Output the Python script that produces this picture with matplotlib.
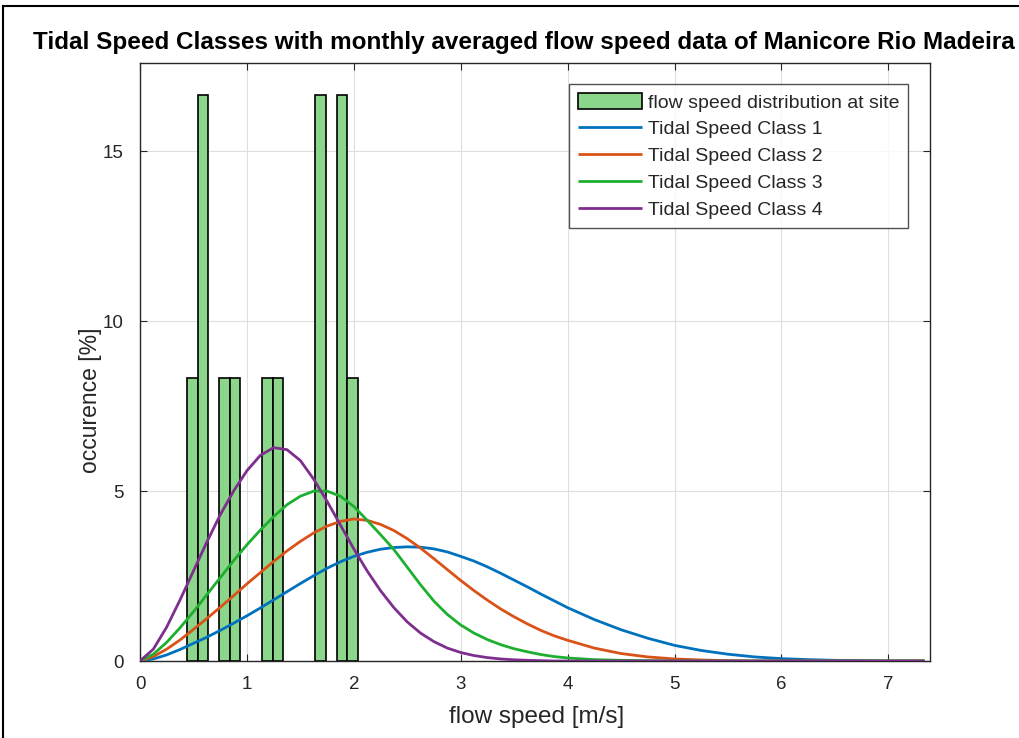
import matplotlib
matplotlib.use("Agg")
import matplotlib.pyplot as plt
from matplotlib.lines import Line2D

plt.rcParams['font.family'] = ['Liberation Sans', 'DejaVu Sans']

# ---- data ----
bin_centers = [0.49, 0.59, 0.79, 0.89, 1.19, 1.29, 1.69, 1.89, 1.99]
bin_heights = [8.333, 16.667, 8.333, 8.333, 8.333, 8.333, 16.667, 16.667, 8.333]
bin_width = 0.1

speed = [0, 0.125, 0.25, 0.375, 0.5, 0.625, 0.75, 0.875, 1.0, 1.125, 1.25, 1.375,
         1.5, 1.625, 1.75, 1.875, 2.0, 2.125, 2.25, 2.375, 2.5, 2.625, 2.75, 2.875,
         3.0, 3.125, 3.25, 3.375, 3.5, 3.625, 3.75, 3.875, 4.0, 4.25, 4.5, 4.75,
         5.0, 5.25, 5.5, 5.75, 6.0, 6.25, 6.5, 6.75, 7.0, 7.34]
class1 = [0, 0.06, 0.18, 0.34, 0.52, 0.70, 0.90, 1.11, 1.33, 1.56, 1.80, 2.04,
          2.28, 2.51, 2.73, 2.92, 3.08, 3.20, 3.29, 3.34, 3.36, 3.35, 3.30, 3.21,
          3.08, 2.94, 2.77, 2.58, 2.38, 2.18, 1.97, 1.77, 1.57, 1.22, 0.92, 0.67,
          0.46, 0.31, 0.20, 0.12, 0.07, 0.04, 0.02, 0.01, 0.0, 0.0]
class2 = [0, 0.13, 0.35, 0.62, 0.93, 1.25, 1.58, 1.92, 2.27, 2.60, 2.93, 3.24,
          3.52, 3.77, 3.97, 4.11, 4.18, 4.14, 4.02, 3.84, 3.60, 3.32, 3.01, 2.69,
          2.37, 2.07, 1.79, 1.53, 1.30, 1.09, 0.90, 0.74, 0.61, 0.38, 0.22, 0.12,
          0.06, 0.03, 0.01, 0.0, 0.0, 0.0, 0.0, 0.0, 0.0, 0.0]
class3 = [0, 0.20, 0.55, 0.98, 1.45, 1.95, 2.45, 2.95, 3.42, 3.85, 4.25, 4.60,
          4.85, 5.00, 5.00, 4.85, 4.55, 4.14, 3.72, 3.28, 2.76, 2.24, 1.76, 1.37,
          1.06, 0.82, 0.63, 0.48, 0.36, 0.27, 0.19, 0.13, 0.09, 0.04, 0.02, 0.01,
          0.0, 0.0, 0.0, 0.0, 0.0, 0.0, 0.0, 0.0, 0.0, 0.0]
class4 = [0, 0.35, 1.00, 1.80, 2.65, 3.50, 4.30, 5.00, 5.60, 6.05, 6.28, 6.22,
          5.90, 5.35, 4.70, 4.00, 3.30, 2.65, 2.07, 1.57, 1.15, 0.82, 0.57, 0.38,
          0.25, 0.16, 0.10, 0.06, 0.035, 0.02, 0.01, 0.0, 0.0, 0.0, 0.0, 0.0,
          0.0, 0.0, 0.0, 0.0, 0.0, 0.0, 0.0, 0.0, 0.0, 0.0]

bar_label = 'flow speed distribution at site'
class_labels = ['Tidal Speed Class 1', 'Tidal Speed Class 2',
                'Tidal Speed Class 3', 'Tidal Speed Class 4']
class_colors = ['#0072BD', '#D95319', '#1DB02F', '#7E2F8E']
xticks = [0, 1, 2, 3, 4, 5, 6, 7]
yticks = [0, 5, 10, 15]

W, H = 1020, 738
fig = plt.figure(figsize=(W / 100, H / 100), dpi=100)
ax = fig.add_axes([140 / W, 1 - 661 / H, (930 - 140) / W, (661 - 63) / H])

bars = ax.bar(bin_centers, bin_heights, width=bin_width, color='#8CD68C',
              edgecolor='black', linewidth=1.2, label=bar_label, zorder=2)
lines = []
for ys, lab, col in zip([class1, class2, class3, class4], class_labels, class_colors):
    ln, = ax.plot(speed, ys, color=col, linewidth=2.0, label=lab, zorder=3,
                  solid_joinstyle='round', solid_capstyle='butt')
    lines.append(ln)

ax.set_xlim(0, 7.39)
ax.set_ylim(0, 17.6)
ax.set_xticks(xticks)
ax.set_yticks(yticks)
ax.grid(True, color='#dedede', linewidth=0.8, zorder=0)
ax.set_axisbelow(True)
ax.tick_params(direction='in', top=True, right=True, labelsize=13.5,
               length=5, colors='#262626')
ax.tick_params(axis='x', pad=11)
ax.tick_params(axis='y', pad=12)
for s in ax.spines.values():
    s.set_color('#262626')
    s.set_linewidth(1.0)
ax.set_xlabel('flow speed [m/s]', fontsize=17.5, color='#262626', va='center')
ax.xaxis.set_label_coords((537 - 140) / 790, (661 - 717) / 598)
ax.set_ylabel('occurence [%]', fontsize=16.5, color='#262626', va='center')
ax.yaxis.set_label_coords((90 - 140) / 790, (661 - 400) / 598)

leg = ax.legend([bars] + lines, [bar_label] + class_labels,
                loc='upper right', bbox_to_anchor=(1 - 22 / 790, 1 - 21 / 598),
                borderaxespad=0, fontsize=14, frameon=True, fancybox=False,
                edgecolor='#262626', handlelength=3.3, handleheight=0.9,
                handletextpad=0.3, labelspacing=0.42, borderpad=0.45)
leg.get_frame().set_linewidth(1.0)
for t in leg.get_texts():
    t.set_color('#262626')

fig.text(524 / W, 1 - 42 / H,
         'Tidal Speed Classes with monthly averaged flow speed data of Manicore Rio Madeira',
         ha='center', va='center', fontsize=17.5, fontweight='bold', color='black')

# screenshot border (left and top)
fig.add_artist(Line2D([3 / W, 3 / W], [0, 1 - 6 / H], transform=fig.transFigure,
                      color='black', linewidth=1.5))
fig.add_artist(Line2D([3 / W, 1], [1 - 6 / H, 1 - 6 / H], transform=fig.transFigure,
                      color='black', linewidth=1.5))

fig.savefig('out.png', dpi=100)
